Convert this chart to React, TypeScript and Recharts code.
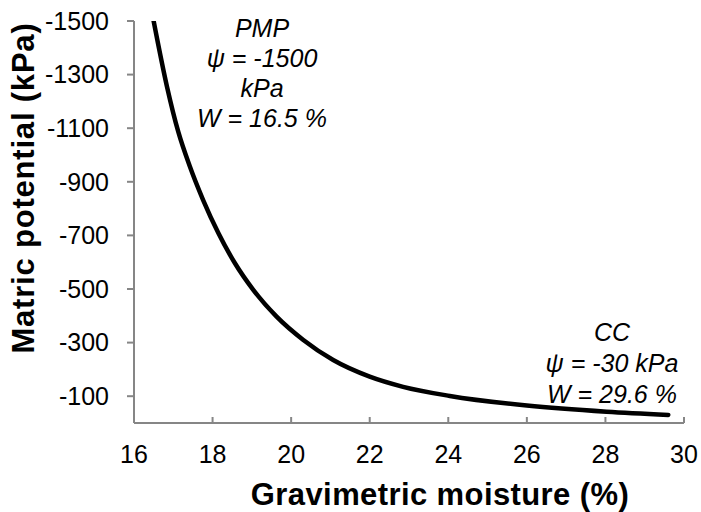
import { LineChart, Line, XAxis, YAxis, Customized } from "recharts"

const moisture = [16.5, 16.84, 17.13, 17.42, 17.76, 18.15, 18.57, 19.04, 19.63, 20.31, 21.07, 22.0, 22.85, 24.04, 26.0, 28.03, 29.6]
const potential = [-1500, -1255, -1085, -958, -832, -708, -596, -496, -397, -310, -235, -173, -135, -101, -65, -42, -30]

const xTicks = [16, 18, 20, 22, 24, 26, 28, 30]
const yTicks = [-1500, -1300, -1100, -900, -700, -500, -300, -100]

const pmpLines = ["PMP", "ψ = -1500", "kPa", "W = 16.5 %"]
const ccLines = ["CC", "ψ = -30 kPa", "W = 29.6 %"]

const data = moisture.map((w, i) => ({ w, psi: potential[i] }))

const font = "'Liberation Sans', Arial, sans-serif"
const axisGrey = "#868686"

function Overlay() {
  return (
    <g fontFamily={font} fill="#000">
      {pmpLines.map((t, i) => (
        <text key={"p" + i} x={262} y={37 + i * 30} textAnchor="middle" fontSize={25} fontStyle="italic">
          {t}
        </text>
      ))}
      {ccLines.map((t, i) => (
        <text key={"c" + i} x={612} y={341 + i * 30.8} textAnchor="middle" fontSize={25} fontStyle="italic">
          {t}
        </text>
      ))}
      <text x={440} y={505} textAnchor="middle" fontSize={31} fontWeight="bold" letterSpacing={0.4}>
        Gravimetric moisture (%)
      </text>
      <text
        x={188}
        y={34}
        textAnchor="middle"
        fontSize={31}
        fontWeight="bold"
        letterSpacing={0.8}
        transform="rotate(-90, 34, 188) translate(-154, 154)"
      >
        Matric potential (kPa)
      </text>
    </g>
  )
}

export default function App() {
  return (
    <div style={{ position: "absolute", left: 0, top: 0, background: "#fff" }}>
      <LineChart width={701} height={512} data={data} margin={{ top: 21, right: 17, bottom: 0, left: 0 }}>
        <XAxis
          dataKey="w"
          type="number"
          domain={[16, 30]}
          ticks={xTicks}
          height={89}
          stroke={axisGrey}
          strokeWidth={2}
          tickSize={-6}
          tickMargin={28}
          tick={{ fontSize: 25, fill: "#000", fontFamily: font }}
          allowDataOverflow
        />
        <YAxis
          dataKey="psi"
          type="number"
          domain={[-1500, 0]}
          reversed
          ticks={yTicks}
          width={134}
          stroke={axisGrey}
          strokeWidth={2}
          tickSize={7}
          tickMargin={18}
          tick={{ fontSize: 25, fill: "#000", fontFamily: font }}
          allowDataOverflow
        />
        <Line
          type="monotone"
          dataKey="psi"
          stroke="#000"
          strokeWidth={4.5}
          strokeLinecap="round"
          dot={false}
          isAnimationActive={false}
        />
        <Customized component={Overlay} />
      </LineChart>
    </div>
  )
}
